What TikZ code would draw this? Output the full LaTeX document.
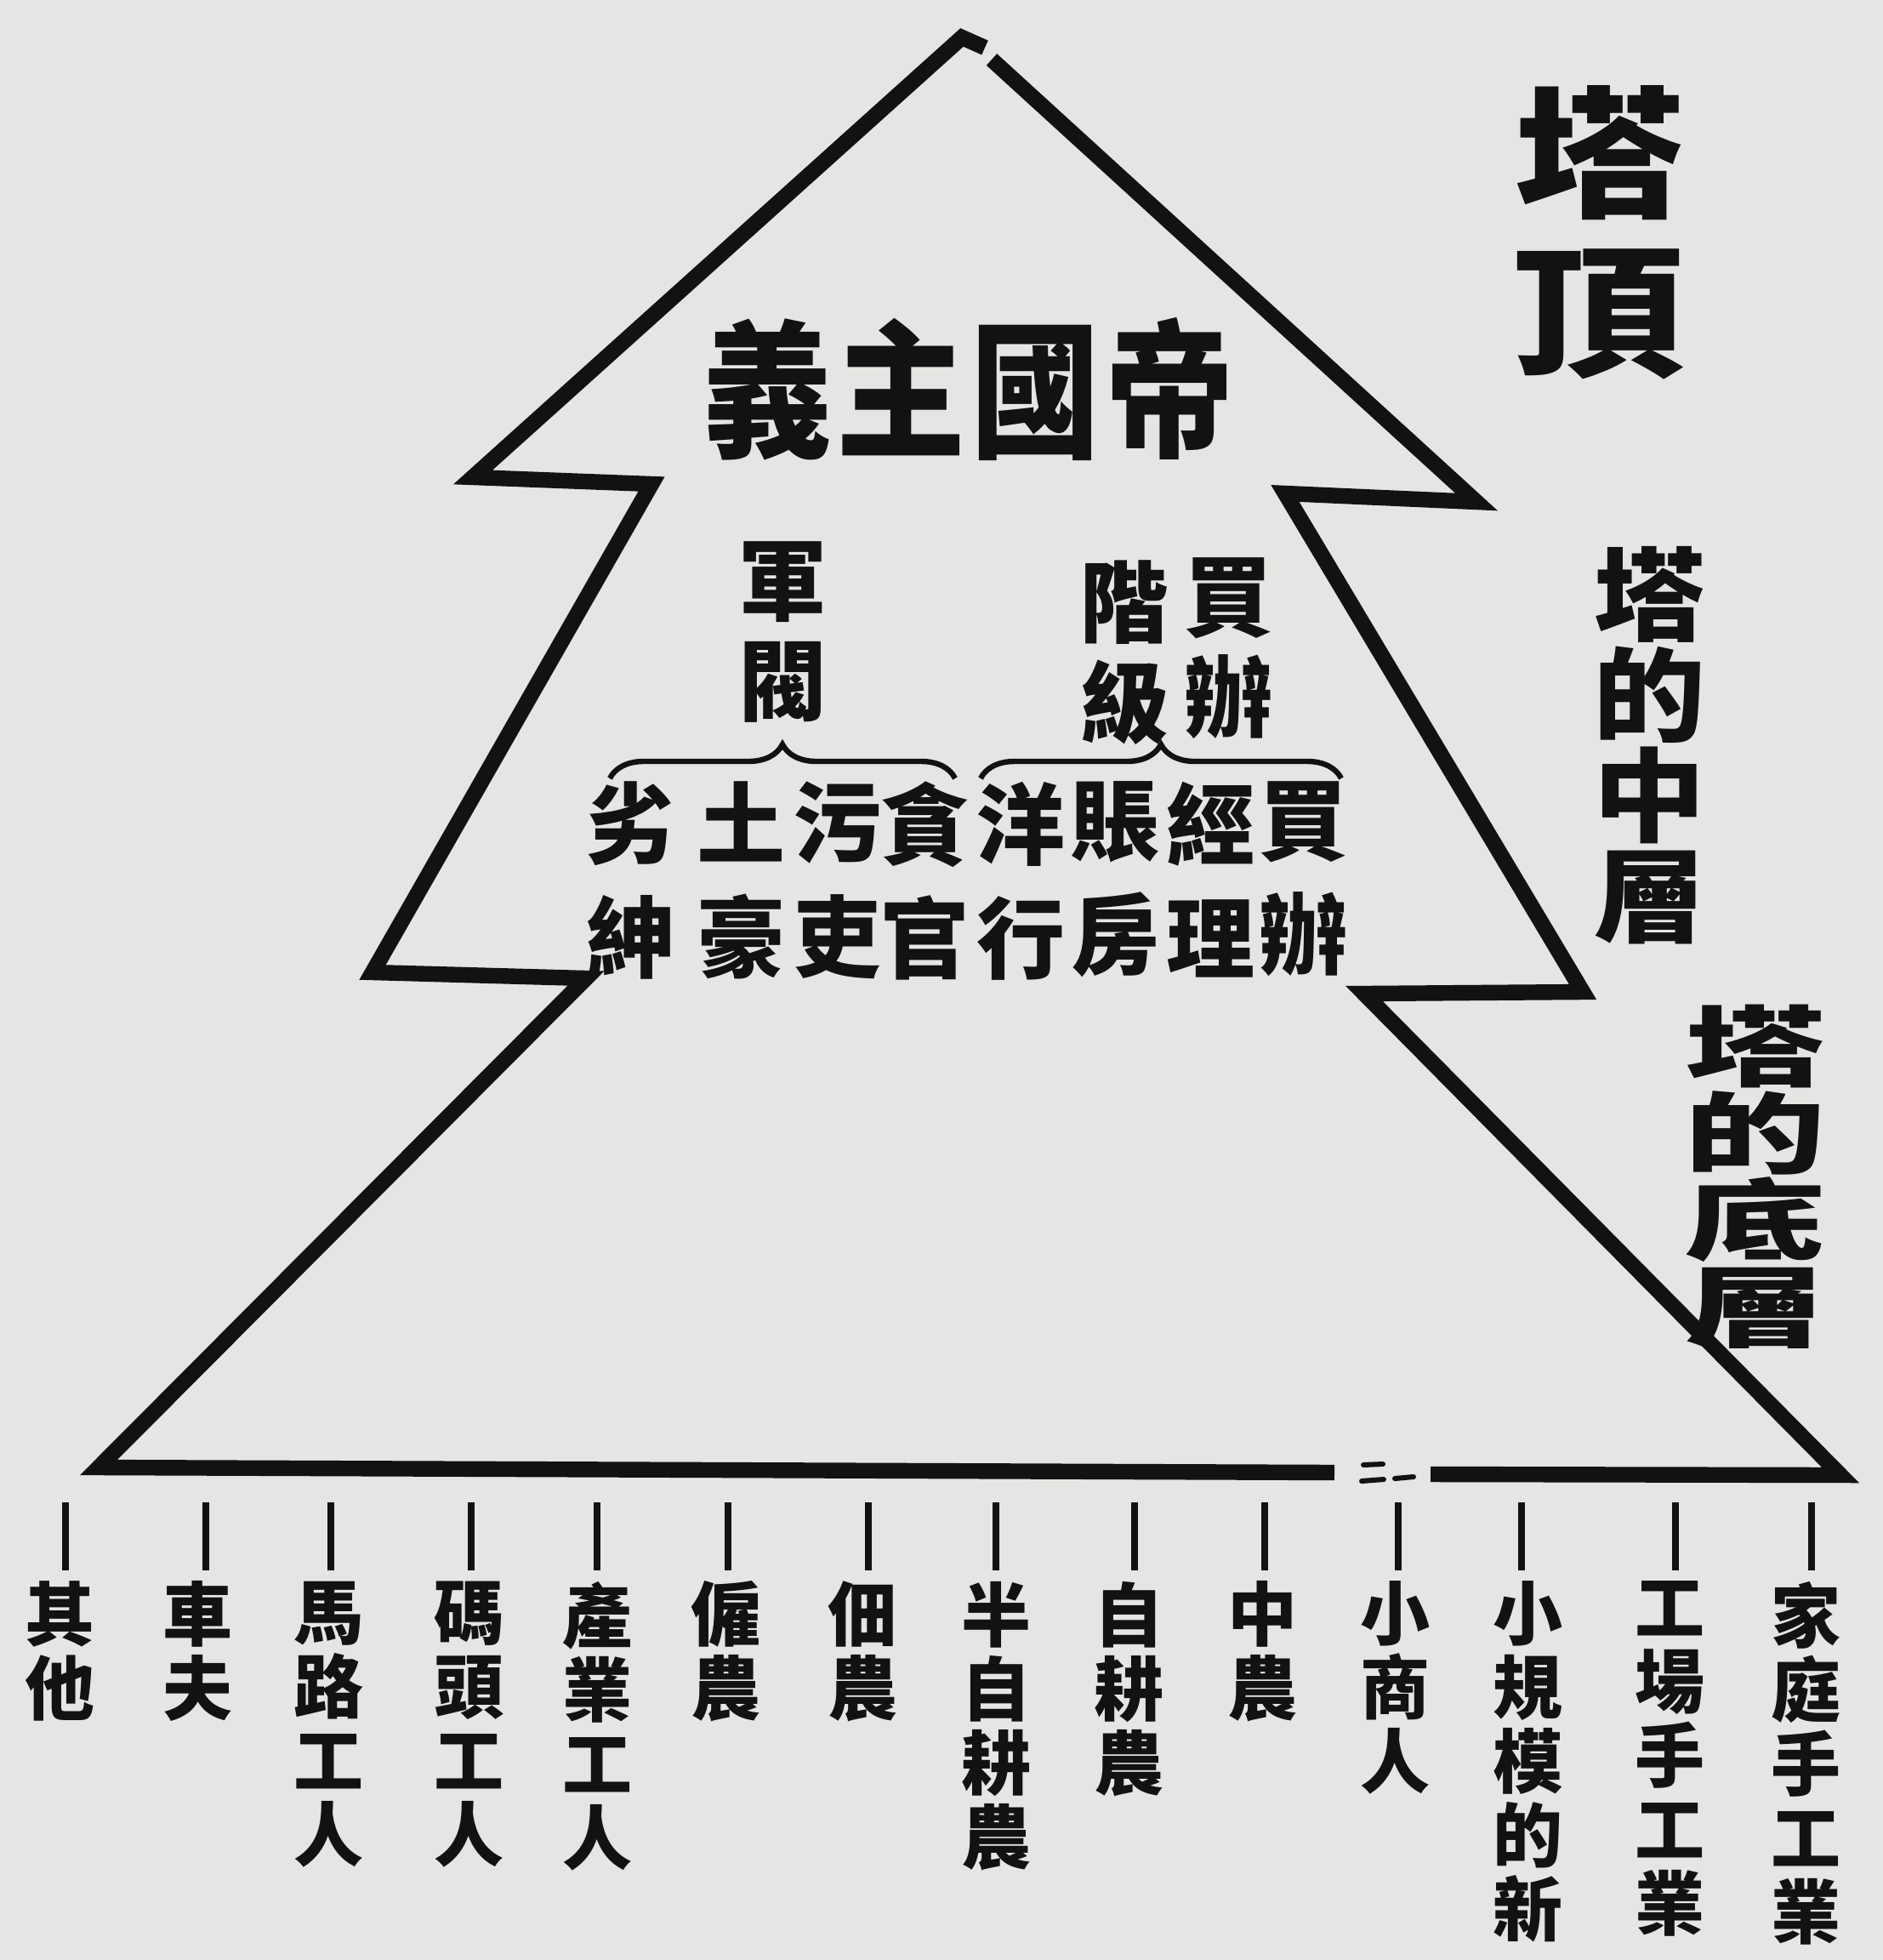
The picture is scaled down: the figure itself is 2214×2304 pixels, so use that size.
\documentclass[tikz,border=0pt]{standalone}
\usepackage{fontspec}
\usepackage{graphicx}
\newfontfamily\cjk{Noto Sans CJK TC}
\usetikzlibrary{decorations.pathreplacing}
\definecolor{paper}{RGB}{229,229,227}
\definecolor{ink}{RGB}{18,18,18}
\newcommand\widechar[2]{\scalebox{#1}[1]{#2}}
\tikzset{
  outline/.style={draw=ink,line width=4.6pt,line join=miter},
  speck/.style={draw=ink,line width=1.5pt,line cap=round},
  titletext/.style={font=\cjk\bfseries\fontsize{38pt}{40pt}\selectfont,text=ink,inner sep=0pt},
  midtop/.style={font=\cjk\bfseries\fontsize{26pt}{29.5pt}\selectfont,text=ink,inner sep=0pt,align=center,anchor=north},
  midlow/.style={font=\cjk\bfseries\fontsize{26pt}{33.5pt}\selectfont,text=ink,inner sep=0pt,align=center,anchor=north},
  bracebow/.style={draw=ink,line width=1.6pt,decorate,decoration={brace,amplitude=10pt,aspect=0.5}},
  lab/.style={font=\cjk\bfseries\fontsize{20.5pt}{21.75pt}\selectfont,text=ink,inner sep=0pt,align=center,anchor=north},
  tickline/.style={draw=ink,line width=2pt},
  sidetext/.style={text=ink,inner sep=0pt,align=center,anchor=north}
}
\begin{document}
\begin{tikzpicture}[x=0.25pt,y=-0.25pt]
\fill[paper] (0,0) rectangle (2214,2304);
\useasboundingbox (0,0) rectangle (2214,2304);

% outline of the pagoda
\coordinate (apex) at (1131,44);
\coordinate (apexcap) at (1158,56);
\coordinate (apexR) at (1166,70);
\coordinate (tl) at (556,561);
\coordinate (tli) at (766,569);
\coordinate (ml) at (438,1143);
\coordinate (mli) at (689,1150);
\coordinate (bl) at (116,1725);
\coordinate (br) at (2164,1734);
\coordinate (mri) at (1604,1168);
\coordinate (mr) at (1861,1166);
\coordinate (tri) at (1511,580);
\coordinate (tr) at (1736,590);
\coordinate (gapL) at (1569,1731);
\coordinate (gapR) at (1682,1733);
\draw[outline] (gapL) -- (bl) -- (mli) -- (ml) -- (tli) -- (tl) -- (apex) -- (apexcap);
\draw[outline] (apexR) -- (tr) -- (tri) -- (mr) -- (mri) -- (br) -- (gapR);
\draw[speck] (1603,1722) -- (1626,1721);
\draw[speck] (1601,1741) -- (1627,1739);
\draw[speck] (1640,1738) -- (1662,1736);

% title
\node[titletext] (title) at (1139,457) {\scalebox{1}[1.15]{義\hspace{1.5pt}主\hspace{1.5pt}國\hspace{1.5pt}帝}};

% upper middle groups
\node[midtop] (junfa) at (920,636) {軍\\閥};
\node[midtop] (maiban) at (1444,655) {買\\辦};
\node[midtop] (jieji) at (1322,658) {階\\級};

% braces
\coordinate (bla) at (717,915);
\coordinate (blb) at (1123,915);
\coordinate (bra) at (1153,915);
\coordinate (brb) at (1577,915);
\draw[bracebow] (bla) -- (blb);
\draw[bracebow] (bra) -- (brb);

% lower middle columns
\node[midlow] (m1) at (1532,918) {買\\辦};
\node[midlow] (m2) at (1423,918) {經\\理};
\node[midlow] (m3) at (1311,918) {賬\\房};
\node[midlow] (m4) at (1200,918) {洋\\行};
\node[midlow] (m5) at (1087,918) {貪\\官};
\node[midlow] (m6) at (984,918) {污\\吏};
\node[midlow] (m7) at (871,918) {土\\豪};
\node[midlow] (m8) at (741,918) {劣\\紳};

% side labels
\node[sidetext,font=\cjk\bfseries\fontsize{42pt}{46.75pt}\selectfont] (top) at (1880,100) {\widechar{1.2}{塔}\\\widechar{1.2}{頂}};
\node[sidetext,font=\cjk\bfseries\fontsize{30pt}{29.5pt}\selectfont] (middle) at (1939,642) {\widechar{1.1}{塔}\\\widechar{1.1}{的}\\\widechar{1.1}{中}\\\widechar{1.1}{層}};
\node[sidetext,font=\cjk\bfseries\fontsize{26pt}{25.5pt}\selectfont] (bottom) at (2064,1180) {\widechar{1.6}{塔}\\\widechar{1.6}{的}\\\widechar{1.6}{底}\\\widechar{1.6}{層}};

% bottom labels with ticks
\foreach \i/\lx/\tx/\txt in {
  1/70/77/{其\\他},
  2/232/242/{車\\夫},
  3/386/389/{馬\\路\\工\\人},
  4/551/554/{碼\\頭\\工\\人},
  5/702/702/{產\\業\\工\\人},
  6/853/856/{僱\\農},
  7/1014/1021/{佃\\農},
  8/1171/1171/{半\\自\\耕\\農},
  9/1327/1334/{自\\耕\\農},
  10/1484/1487/{中\\農},
  11/1640/1644/{小\\商\\人},
  12/1796/1789/{小\\規\\模\\的\\新},
  13/1963/1970/{工\\場\\手\\工\\業},
  14/2123/2130/{家\\庭\\手\\工\\業}}{
  \node[lab] (l\i) at (\lx,1858) {\txt};
  \coordinate (t\i) at (\tx,1766);
  \draw[tickline,shorten >=3pt] (t\i) -- (t\i |- l\i.north);
}
\end{tikzpicture}
\end{document}
